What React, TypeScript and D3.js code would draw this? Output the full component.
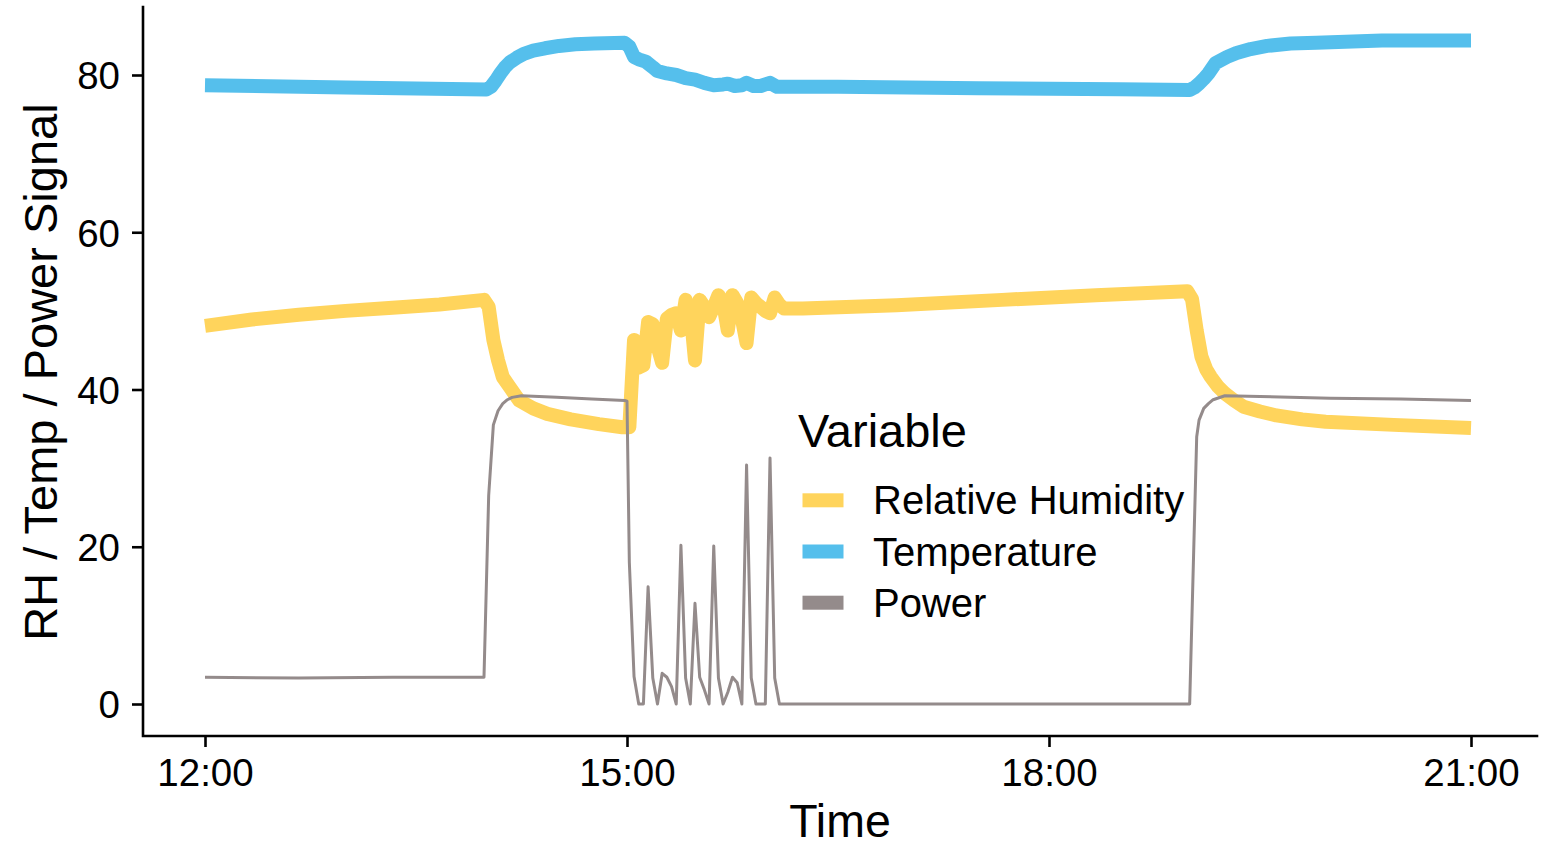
import React, { useEffect, useRef } from "react";
import * as d3 from "d3";

// readings, clock time -> value
const rhTimes = [
  "12:00", "12:20", "12:40", "13:00", "13:20", "13:40", "13:59", "14:01", "14:03", "14:05",
  "14:07", "14:10", "14:14", "14:20", "14:26", "14:36", "14:48", "14:58", "15:01",
  "15:03", "15:05", "15:07", "15:09", "15:11", "15:13", "15:15", "15:17", "15:19", "15:21",
  "15:23", "15:25", "15:27", "15:29", "15:31", "15:33", "15:35", "15:37", "15:39", "15:41",
  "15:43", "15:45", "15:47", "15:49", "15:51", "15:53", "15:55", "15:57", "15:59", "16:01",
  "16:03", "16:05", "16:07", "16:15", "16:55", "17:40", "18:20", "18:59", "19:01", "19:03",
  "19:05", "19:07", "19:09", "19:12", "19:15", "19:19", "19:23", "19:30", "19:37", "19:48",
  "19:58", "20:27", "21:00",
];
const rhValues = [
  48.1, 48.9, 49.5, 50.0, 50.4, 50.8, 51.4, 50.5, 46.3, 43.7,
  41.6, 40.3, 38.6, 37.6, 36.9, 36.2, 35.6, 35.2, 35.2,
  46.3, 42.8, 43.1, 48.6, 48.3, 45.5, 43.4, 49.0, 49.5, 49.7,
  47.5, 51.4, 50.0, 43.7, 51.4, 50.5, 49.2, 50.5, 52.0, 51.0,
  47.5, 52.0, 51.0, 49.0, 45.9, 51.7, 51.0, 50.5, 50.0, 49.7,
  51.7, 50.8, 50.3, 50.3, 50.7, 51.4, 52.0, 52.5, 51.5, 47.5,
  44.2, 42.6, 41.6, 40.4, 39.5, 38.6, 37.8, 37.2, 36.7, 36.2,
  35.9, 35.5, 35.1,
];

const tempTimes = [
  "12:00", "13:00", "14:00", "14:02", "14:04", "14:06", "14:08", "14:10", "14:13", "14:16",
  "14:20", "14:25", "14:31", "14:38", "14:46", "14:59", "15:01", "15:03", "15:05", "15:08",
  "15:11", "15:13", "15:17", "15:21", "15:25", "15:29", "15:33", "15:37", "15:41", "15:43",
  "15:46", "15:49", "15:51", "15:54", "15:57", "15:59", "16:01", "16:04", "16:30", "17:30",
  "18:30", "19:00", "19:02", "19:04", "19:06", "19:08", "19:11", "19:16", "19:20", "19:26",
  "19:33", "19:43", "19:54", "20:22", "21:00",
];
const tempValues = [
  78.7, 78.4, 78.15, 78.5, 79.3, 80.2, 81.0, 81.6, 82.2, 82.7,
  83.1, 83.4, 83.7, 83.9, 84.0, 84.1, 83.6, 82.3, 82.0, 81.7,
  81.0, 80.5, 80.2, 80.0, 79.6, 79.4, 79.0, 78.7, 78.8, 78.9,
  78.6, 78.7, 79.0, 78.6, 78.6, 78.8, 79.0, 78.5, 78.5, 78.3,
  78.2, 78.1, 78.4, 78.9, 79.5, 80.2, 81.5, 82.3, 82.8, 83.3,
  83.7, 84.0, 84.1, 84.4, 84.4,
];

const powerTimes = [
  "12:00", "12:40", "13:20", "13:59", "14:01", "14:03", "14:05", "14:07", "14:09", "14:11",
  "14:15", "14:30", "14:45", "14:59", "15:00", "15:01", "15:03", "15:05", "15:07", "15:09",
  "15:11", "15:13", "15:15", "15:17", "15:19", "15:21", "15:23", "15:25", "15:27", "15:29",
  "15:31", "15:33", "15:35", "15:37", "15:39", "15:41", "15:43", "15:45", "15:47", "15:49",
  "15:51", "15:53", "15:55", "15:59", "16:01", "16:03", "16:05", "17:00", "18:00", "19:00",
  "19:03", "19:04", "19:06", "19:08", "19:10", "19:15", "19:30", "20:00", "20:30", "21:00",
];
const powerValues = [
  3.4, 3.3, 3.4, 3.4, 26.5, 35.5, 37.3, 38.2, 38.7, 39.0,
  39.2, 39.0, 38.8, 38.6, 38.5, 18.0, 3.5, 0, 0, 14.9,
  3.3, 0, 3.9, 3.4, 2.2, 0, 20.2, 3.3, 0, 12.8,
  3.4, 1.8, 0, 20.1, 3.3, 0, 1.5, 3.4, 2.7, 0,
  30.4, 3.3, 0, 0, 31.3, 3.3, 0, 0, 0, 0,
  34.0, 36.1, 37.6, 38.2, 38.7, 39.2, 39.1, 38.9, 38.8, 38.6,
];

const seriesNames = ["Relative Humidity", "Temperature", "Power"];
const seriesColors = ["#FFD45C", "#55BFEC", "#948B8B"];
const seriesWidths = [14, 14, 3];

const xTicks = ["12:00", "15:00", "18:00", "21:00"];
const yTicks = [0, 20, 40, 60, 80];

const font = "'Liberation Sans', Arial, sans-serif";

const App = () => {
  const svgRef = useRef(null);

  useEffect(() => {
    document.body.style.margin = "0";
    const svg = d3.select(svgRef.current);
    svg.selectAll("*").remove();

    const parse = d3.timeParse("%H:%M");
    const x = d3
      .scaleTime()
      .domain([parse("12:00"), parse("21:00")])
      .range([205, 1471]);
    const y = d3.scaleLinear().domain([0, 80]).range([704, 75]);

    const left = 143;
    const bottom = 736;

    const series = [
      rhTimes.map((t, i) => [parse(t), rhValues[i]]),
      tempTimes.map((t, i) => [parse(t), tempValues[i]]),
      powerTimes.map((t, i) => [parse(t), powerValues[i]]),
    ];

    const line = d3
      .line()
      .x((d) => x(d[0]))
      .y((d) => y(d[1]));

    svg
      .selectAll(".series")
      .data(series)
      .enter()
      .append("path")
      .attr("class", "series")
      .attr("d", line)
      .attr("fill", "none")
      .attr("stroke", (d, i) => seriesColors[i])
      .attr("stroke-width", (d, i) => seriesWidths[i])
      .attr("stroke-linejoin", "round")
      .attr("stroke-linecap", "butt");

    // axes
    const xAxis = svg
      .append("g")
      .attr("transform", `translate(0,${bottom})`)
      .call(
        d3
          .axisBottom(x)
          .tickValues(xTicks.map(parse))
          .tickFormat(d3.timeFormat("%H:%M"))
          .tickSize(11)
          .tickPadding(12)
      );
    const yAxis = svg
      .append("g")
      .attr("transform", `translate(${left},0)`)
      .call(d3.axisLeft(y).tickValues(yTicks).tickSize(11).tickPadding(12));

    [xAxis, yAxis].forEach((g) => {
      g.select(".domain").remove();
      g.selectAll("line").attr("stroke", "#000").attr("stroke-width", 2.6);
      g.selectAll("text")
        .attr("fill", "#000")
        .style("font-family", font)
        .style("font-size", "38.5px");
    });
    yAxis.selectAll("text").attr("dy", "0.36em");

    svg
      .append("path")
      .attr("d", `M${left},7V${bottom}H1537`)
      .attr("fill", "none")
      .attr("stroke", "#000")
      .attr("stroke-width", 2.6)
      .attr("stroke-linecap", "square");

    svg
      .append("text")
      .attr("x", 840)
      .attr("y", 837)
      .attr("text-anchor", "middle")
      .style("font-family", font)
      .style("font-size", "46.5px")
      .text("Time");

    svg
      .append("text")
      .attr("transform", "translate(57,372) rotate(-90)")
      .attr("text-anchor", "middle")
      .style("font-family", font)
      .style("font-size", "47px")
      .text("RH / Temp / Power Signal");

    // legend
    const legend = svg.append("g").attr("transform", "translate(798,0)");
    legend
      .append("text")
      .attr("x", 0)
      .attr("y", 446.5)
      .style("font-family", font)
      .style("font-size", "47px")
      .text("Variable");

    const items = legend
      .selectAll(".item")
      .data(seriesNames)
      .enter()
      .append("g")
      .attr("class", "item")
      .attr("transform", (d, i) => `translate(0,${500.3 + i * 51.2})`);
    items
      .append("rect")
      .attr("x", 4.5)
      .attr("y", -7)
      .attr("width", 41)
      .attr("height", 14)
      .attr("fill", (d, i) => seriesColors[i]);
    items
      .append("text")
      .attr("x", 75)
      .attr("dy", "0.35em")
      .style("font-family", font)
      .style("font-size", "40px")
      .text((d) => d);
  }, []);

  return <svg ref={svgRef} width={1547} height={843} style={{ display: "block", background: "#fff" }} />;
};

export default App;
